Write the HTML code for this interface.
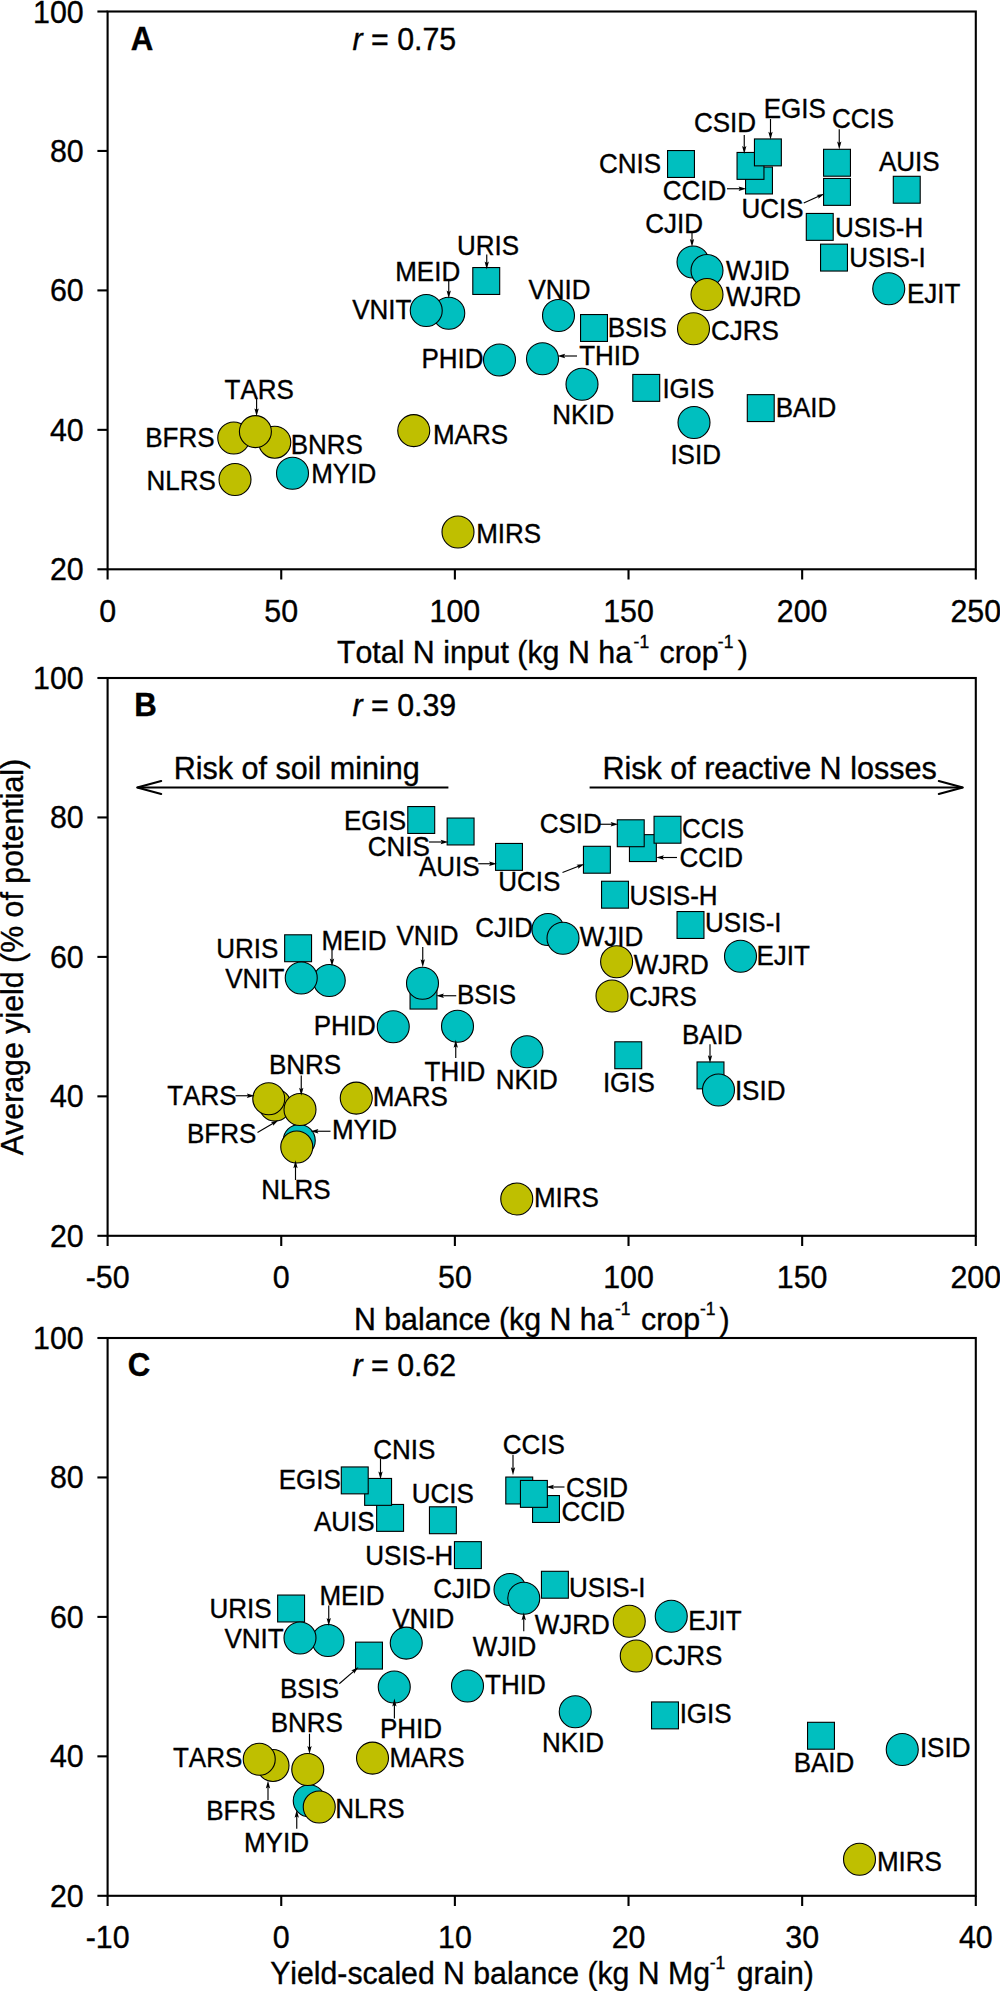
<!DOCTYPE html>
<html lang="en"><head><meta charset="utf-8"><title>Average yield vs N input, N balance and yield-scaled N balance</title>
<style>html,body{margin:0;padding:0;background:#fff}svg{display:block}text{font-kerning:none;stroke:#000;stroke-width:.35px;font-family:"Liberation Sans",Arial,Helvetica,sans-serif;fill:#000}.l{font-size:26px}.t{font-size:30.35px}.r{font-size:30.55px}.b{font-size:31.2px;font-weight:bold}.ax{stroke:#000;stroke-width:2.1;fill:none}.m{stroke:#000;stroke-width:1.1}.ar{stroke:#000;stroke-width:1.15;fill:none}.ah{fill:#000;stroke:none}</style></head><body>
<svg width="1000" height="1991" viewBox="0 0 1000 1991">
<rect width="1000" height="1991" fill="#fff"/>
<g id="panel-A">
<rect class="ax" x="107.6" y="11.5" width="868.2" height="557.8"/>
<line class="ax" x1="97.4" y1="11.5" x2="107.6" y2="11.5"/>
<text class="t" transform="translate(83.7 22.5) scale(1 1.04)" text-anchor="end">100</text>
<line class="ax" x1="97.4" y1="150.95" x2="107.6" y2="150.95"/>
<text class="t" transform="translate(83.7 161.95) scale(1 1.04)" text-anchor="end">80</text>
<line class="ax" x1="97.4" y1="290.4" x2="107.6" y2="290.4"/>
<text class="t" transform="translate(83.7 301.4) scale(1 1.04)" text-anchor="end">60</text>
<line class="ax" x1="97.4" y1="429.85" x2="107.6" y2="429.85"/>
<text class="t" transform="translate(83.7 440.85) scale(1 1.04)" text-anchor="end">40</text>
<line class="ax" x1="97.4" y1="569.3" x2="107.6" y2="569.3"/>
<text class="t" transform="translate(83.7 580.3) scale(1 1.04)" text-anchor="end">20</text>
<line class="ax" x1="107.6" y1="569.3" x2="107.6" y2="579.5"/>
<text class="t" transform="translate(107.6 621.6) scale(1 1.04)" text-anchor="middle">0</text>
<line class="ax" x1="281.24" y1="569.3" x2="281.24" y2="579.5"/>
<text class="t" transform="translate(281.24 621.6) scale(1 1.04)" text-anchor="middle">50</text>
<line class="ax" x1="454.88" y1="569.3" x2="454.88" y2="579.5"/>
<text class="t" transform="translate(454.88 621.6) scale(1 1.04)" text-anchor="middle">100</text>
<line class="ax" x1="628.52" y1="569.3" x2="628.52" y2="579.5"/>
<text class="t" transform="translate(628.52 621.6) scale(1 1.04)" text-anchor="middle">150</text>
<line class="ax" x1="802.16" y1="569.3" x2="802.16" y2="579.5"/>
<text class="t" transform="translate(802.16 621.6) scale(1 1.04)" text-anchor="middle">200</text>
<line class="ax" x1="975.8" y1="569.3" x2="975.8" y2="579.5"/>
<text class="t" transform="translate(975.8 621.6) scale(1 1.04)" text-anchor="middle">250</text>
<text class="b" transform="translate(130.7 49.8) scale(1 1.04)">A</text>
<text class="t" transform="translate(352.5 49.5) scale(1 1.04)"><tspan font-style="italic">r</tspan> = 0.75</text>
<rect class="m" x="893.3" y="176.3" width="26.9" height="26.9" fill="#00bfbf"/>
<rect class="m" x="747.3" y="394.65" width="26.9" height="26.9" fill="#00bfbf"/>
<rect class="m" x="580.55" y="314.55" width="26.9" height="26.9" fill="#00bfbf"/>
<rect class="m" x="745.55" y="167.05" width="26.9" height="26.9" fill="#00bfbf"/>
<rect class="m" x="823.55" y="149.3" width="26.9" height="26.9" fill="#00bfbf"/>
<rect class="m" x="667.55" y="150.55" width="26.9" height="26.9" fill="#00bfbf"/>
<rect class="m" x="737.05" y="152.45" width="26.9" height="26.9" fill="#00bfbf"/>
<rect class="m" x="754.45" y="138.95" width="26.9" height="26.9" fill="#00bfbf"/>
<rect class="m" x="632.8" y="374.45" width="26.9" height="26.9" fill="#00bfbf"/>
<rect class="m" x="823.55" y="178.45" width="26.9" height="26.9" fill="#00bfbf"/>
<rect class="m" x="472.8" y="267.55" width="26.9" height="26.9" fill="#00bfbf"/>
<rect class="m" x="806.3" y="213.45" width="26.9" height="26.9" fill="#00bfbf"/>
<rect class="m" x="820.55" y="244.15" width="26.9" height="26.9" fill="#00bfbf"/>
<circle class="m" cx="693" cy="262" r="16" fill="#00bfbf"/>
<circle class="m" cx="888.75" cy="288.75" r="16" fill="#00bfbf"/>
<circle class="m" cx="694" cy="422.5" r="16" fill="#00bfbf"/>
<circle class="m" cx="448.75" cy="313.25" r="16" fill="#00bfbf"/>
<circle class="m" cx="292.5" cy="473.25" r="16" fill="#00bfbf"/>
<circle class="m" cx="582" cy="384.25" r="16" fill="#00bfbf"/>
<circle class="m" cx="499.5" cy="360" r="16" fill="#00bfbf"/>
<circle class="m" cx="542.5" cy="358.75" r="16" fill="#00bfbf"/>
<circle class="m" cx="558.5" cy="315.5" r="16" fill="#00bfbf"/>
<circle class="m" cx="426.25" cy="310.5" r="16" fill="#00bfbf"/>
<circle class="m" cx="707" cy="270.5" r="16" fill="#00bfbf"/>
<circle class="m" cx="233.75" cy="438" r="16" fill="#bfbf00"/>
<circle class="m" cx="274.75" cy="442.2" r="16" fill="#bfbf00"/>
<circle class="m" cx="693.5" cy="328.75" r="16" fill="#bfbf00"/>
<circle class="m" cx="413.75" cy="430.6" r="16" fill="#bfbf00"/>
<circle class="m" cx="458" cy="532" r="16" fill="#bfbf00"/>
<circle class="m" cx="235" cy="479.5" r="16" fill="#bfbf00"/>
<circle class="m" cx="255.4" cy="431.6" r="16" fill="#bfbf00"/>
<circle class="m" cx="707" cy="294.5" r="16" fill="#bfbf00"/>
<line class="ar" x1="256.6" y1="398" x2="256.6" y2="410.4"/><polygon class="ah" points="256.6,416.2 254.45,408.4 256.6,409.7 258.75,408.4"/>
<line class="ar" x1="486.75" y1="254.5" x2="486.75" y2="263.6"/><polygon class="ah" points="486.75,269.4 484.6,261.6 486.75,262.9 488.9,261.6"/>
<line class="ar" x1="448.75" y1="280.5" x2="448.75" y2="292.6"/><polygon class="ah" points="448.75,298.4 446.6,290.6 448.75,291.9 450.9,290.6"/>
<line class="ar" x1="577" y1="356" x2="563.15" y2="356"/><polygon class="ah" points="557.35,356 565.15,353.85 563.85,356 565.15,358.15"/>
<line class="ar" x1="744.25" y1="135" x2="744.25" y2="148.1"/><polygon class="ah" points="744.25,153.9 742.1,146.1 744.25,147.4 746.4,146.1"/>
<line class="ar" x1="770.5" y1="119" x2="770.5" y2="133.85"/><polygon class="ah" points="770.5,139.65 768.35,131.85 770.5,133.15 772.65,131.85"/>
<line class="ar" x1="727" y1="188.75" x2="740.6" y2="188.75"/><polygon class="ah" points="746.4,188.75 738.6,190.9 739.9,188.75 738.6,186.6"/>
<line class="ar" x1="692" y1="232" x2="692" y2="241.1"/><polygon class="ah" points="692,246.9 689.85,239.1 692,240.4 694.15,239.1"/>
<line class="ar" x1="839.25" y1="129.25" x2="839.25" y2="143.6"/><polygon class="ah" points="839.25,149.4 837.1,141.6 839.25,142.9 841.4,141.6"/>
<line class="ar" x1="803.75" y1="203" x2="819.24" y2="196.05"/><polygon class="ah" points="824.53,193.68 818.29,198.83 818.6,196.34 816.53,194.91"/>
<text class="l" transform="translate(224.52 399.3) scale(1 1.04)">TARS</text>
<text class="l" transform="translate(290.67 453.8) scale(1 1.04)">BNRS</text>
<text class="l" transform="translate(311.17 483.3) scale(1 1.04)">MYID</text>
<text class="l" transform="translate(145.17 446.55) scale(1 1.04)">BFRS</text>
<text class="l" transform="translate(146.42 489.55) scale(1 1.04)">NLRS</text>
<text class="l" transform="translate(432.92 443.55) scale(1 1.04)">MARS</text>
<text class="l" transform="translate(457.04 254.55) scale(1 1.04)">URIS</text>
<text class="l" transform="translate(395.17 280.8) scale(1 1.04)">MEID</text>
<text class="l" transform="translate(352.19 318.8) scale(1 1.04)">VNIT</text>
<text class="l" transform="translate(528.44 299.05) scale(1 1.04)">VNID</text>
<text class="l" transform="translate(421.42 368.05) scale(1 1.04)">PHID</text>
<text class="l" transform="translate(552.17 424.05) scale(1 1.04)">NKID</text>
<text class="l" transform="translate(579.22 364.55) scale(1 1.04)">THID</text>
<text class="l" transform="translate(598.98 173.3) scale(1 1.04)">CNIS</text>
<text class="l" transform="translate(693.98 131.55) scale(1 1.04)">CSID</text>
<text class="l" transform="translate(763.67 117.55) scale(1 1.04)">EGIS</text>
<text class="l" transform="translate(662.73 200.05) scale(1 1.04)">CCID</text>
<text class="l" transform="translate(741.54 217.55) scale(1 1.04)">UCIS</text>
<text class="l" transform="translate(645.23 232.55) scale(1 1.04)">CJID</text>
<text class="l" transform="translate(725.94 279.55) scale(1 1.04)">WJID</text>
<text class="l" transform="translate(725.94 306.3) scale(1 1.04)">WJRD</text>
<text class="l" transform="translate(607.67 337.3) scale(1 1.04)">BSIS</text>
<text class="l" transform="translate(710.98 340.3) scale(1 1.04)">CJRS</text>
<text class="l" transform="translate(831.98 127.55) scale(1 1.04)">CCIS</text>
<text class="l" transform="translate(879 170.8) scale(1 1.04)">AUIS</text>
<text class="l" transform="translate(835.09 236.5) scale(1 1.04)">USIS-H</text>
<text class="l" transform="translate(849.29 267.2) scale(1 1.04)">USIS-I</text>
<text class="l" transform="translate(906.92 302.55) scale(1 1.04)">EJIT</text>
<text class="l" transform="translate(662.4 397.8) scale(1 1.04)">IGIS</text>
<text class="l" transform="translate(775.67 417.05) scale(1 1.04)">BAID</text>
<text class="l" transform="translate(670.4 464.05) scale(1 1.04)">ISID</text>
<text class="l" transform="translate(476.17 542.8) scale(1 1.04)">MIRS</text>
</g>
<g id="panel-B">
<rect class="ax" x="107.6" y="678" width="868.2" height="557.8"/>
<line class="ax" x1="97.4" y1="678" x2="107.6" y2="678"/>
<text class="t" transform="translate(83.7 689) scale(1 1.04)" text-anchor="end">100</text>
<line class="ax" x1="97.4" y1="817.45" x2="107.6" y2="817.45"/>
<text class="t" transform="translate(83.7 828.45) scale(1 1.04)" text-anchor="end">80</text>
<line class="ax" x1="97.4" y1="956.9" x2="107.6" y2="956.9"/>
<text class="t" transform="translate(83.7 967.9) scale(1 1.04)" text-anchor="end">60</text>
<line class="ax" x1="97.4" y1="1096.35" x2="107.6" y2="1096.35"/>
<text class="t" transform="translate(83.7 1107.35) scale(1 1.04)" text-anchor="end">40</text>
<line class="ax" x1="97.4" y1="1235.8" x2="107.6" y2="1235.8"/>
<text class="t" transform="translate(83.7 1246.8) scale(1 1.04)" text-anchor="end">20</text>
<line class="ax" x1="107.6" y1="1235.8" x2="107.6" y2="1246"/>
<text class="t" transform="translate(107.6 1288.1) scale(1 1.04)" text-anchor="middle">-50</text>
<line class="ax" x1="281.24" y1="1235.8" x2="281.24" y2="1246"/>
<text class="t" transform="translate(281.24 1288.1) scale(1 1.04)" text-anchor="middle">0</text>
<line class="ax" x1="454.88" y1="1235.8" x2="454.88" y2="1246"/>
<text class="t" transform="translate(454.88 1288.1) scale(1 1.04)" text-anchor="middle">50</text>
<line class="ax" x1="628.52" y1="1235.8" x2="628.52" y2="1246"/>
<text class="t" transform="translate(628.52 1288.1) scale(1 1.04)" text-anchor="middle">100</text>
<line class="ax" x1="802.16" y1="1235.8" x2="802.16" y2="1246"/>
<text class="t" transform="translate(802.16 1288.1) scale(1 1.04)" text-anchor="middle">150</text>
<line class="ax" x1="975.8" y1="1235.8" x2="975.8" y2="1246"/>
<text class="t" transform="translate(975.8 1288.1) scale(1 1.04)" text-anchor="middle">200</text>
<text class="b" transform="translate(134.2 716.3) scale(1 1.04)">B</text>
<text class="t" transform="translate(352.5 716) scale(1 1.04)"><tspan font-style="italic">r</tspan> = 0.39</text>
<rect class="m" x="495.55" y="843.45" width="26.9" height="26.9" fill="#00bfbf"/>
<rect class="m" x="697.05" y="1061.95" width="26.9" height="26.9" fill="#00bfbf"/>
<rect class="m" x="410.05" y="982.15" width="26.9" height="26.9" fill="#00bfbf"/>
<rect class="m" x="629.45" y="834.65" width="26.9" height="26.9" fill="#00bfbf"/>
<rect class="m" x="654.05" y="816.3" width="26.9" height="26.9" fill="#00bfbf"/>
<rect class="m" x="447.15" y="818.05" width="26.9" height="26.9" fill="#00bfbf"/>
<rect class="m" x="617.3" y="819.8" width="26.9" height="26.9" fill="#00bfbf"/>
<rect class="m" x="407.8" y="806.55" width="26.9" height="26.9" fill="#00bfbf"/>
<rect class="m" x="614.8" y="1041.8" width="26.9" height="26.9" fill="#00bfbf"/>
<rect class="m" x="583.45" y="846.3" width="26.9" height="26.9" fill="#00bfbf"/>
<rect class="m" x="284.65" y="934.8" width="26.9" height="26.9" fill="#00bfbf"/>
<rect class="m" x="601.55" y="881.25" width="26.9" height="26.9" fill="#00bfbf"/>
<rect class="m" x="677.05" y="911.55" width="26.9" height="26.9" fill="#00bfbf"/>
<circle class="m" cx="548" cy="929.5" r="16" fill="#00bfbf"/>
<circle class="m" cx="740.5" cy="956.25" r="16" fill="#00bfbf"/>
<circle class="m" cx="718.5" cy="1090" r="16" fill="#00bfbf"/>
<circle class="m" cx="329.25" cy="980.5" r="16" fill="#00bfbf"/>
<circle class="m" cx="299.25" cy="1140.5" r="16" fill="#00bfbf"/>
<circle class="m" cx="527" cy="1051.75" r="16" fill="#00bfbf"/>
<circle class="m" cx="393.25" cy="1026.75" r="16" fill="#00bfbf"/>
<circle class="m" cx="457.5" cy="1026.25" r="16" fill="#00bfbf"/>
<circle class="m" cx="422.5" cy="983.25" r="16" fill="#00bfbf"/>
<circle class="m" cx="301.25" cy="978" r="16" fill="#00bfbf"/>
<circle class="m" cx="563" cy="938.25" r="16" fill="#00bfbf"/>
<circle class="m" cx="275" cy="1105" r="16" fill="#bfbf00"/>
<circle class="m" cx="300" cy="1109.5" r="16" fill="#bfbf00"/>
<circle class="m" cx="612" cy="996" r="16" fill="#bfbf00"/>
<circle class="m" cx="356.25" cy="1098.1" r="16" fill="#bfbf00"/>
<circle class="m" cx="516.75" cy="1199" r="16" fill="#bfbf00"/>
<circle class="m" cx="296.75" cy="1147" r="16" fill="#bfbf00"/>
<circle class="m" cx="268.75" cy="1098.75" r="16" fill="#bfbf00"/>
<circle class="m" cx="616.6" cy="961.75" r="16" fill="#bfbf00"/>
<line class="ar" x1="429" y1="842" x2="442.6" y2="842"/><polygon class="ah" points="448.4,842 440.6,844.15 441.9,842 440.6,839.85"/>
<line class="ar" x1="332" y1="950" x2="332" y2="960.6"/><polygon class="ah" points="332,966.4 329.85,958.6 332,959.9 334.15,958.6"/>
<line class="ar" x1="422.75" y1="947" x2="422.75" y2="961.35"/><polygon class="ah" points="422.75,967.15 420.6,959.35 422.75,960.65 424.9,959.35"/>
<line class="ar" x1="456.25" y1="995.75" x2="441.9" y2="995.75"/><polygon class="ah" points="436.1,995.75 443.9,993.6 442.6,995.75 443.9,997.9"/>
<line class="ar" x1="478.25" y1="863.75" x2="491.1" y2="863.75"/><polygon class="ah" points="496.9,863.75 489.1,865.9 490.4,863.75 489.1,861.6"/>
<line class="ar" x1="562.5" y1="872.5" x2="579.14" y2="866.08"/><polygon class="ah" points="584.56,864 578.05,868.81 578.49,866.33 576.51,864.8"/>
<line class="ar" x1="600" y1="824.25" x2="612.6" y2="824.25"/><polygon class="ah" points="618.4,824.25 610.6,826.4 611.9,824.25 610.6,822.1"/>
<line class="ar" x1="677" y1="857.5" x2="661.9" y2="857.5"/><polygon class="ah" points="656.1,857.5 663.9,855.35 662.6,857.5 663.9,859.65"/>
<line class="ar" x1="455.75" y1="1058" x2="455.75" y2="1045.65"/><polygon class="ah" points="455.75,1039.85 457.9,1047.65 455.75,1046.35 453.6,1047.65"/>
<line class="ar" x1="710" y1="1044.25" x2="710" y2="1057.35"/><polygon class="ah" points="710,1063.15 707.85,1055.35 710,1056.65 712.15,1055.35"/>
<line class="ar" x1="301.25" y1="1075.5" x2="301.25" y2="1089.85"/><polygon class="ah" points="301.25,1095.65 299.1,1087.85 301.25,1089.15 303.4,1087.85"/>
<line class="ar" x1="235.5" y1="1095.75" x2="248.85" y2="1095.75"/><polygon class="ah" points="254.65,1095.75 246.85,1097.9 248.15,1095.75 246.85,1093.6"/>
<line class="ar" x1="257.5" y1="1132.5" x2="273.71" y2="1122.98"/><polygon class="ah" points="278.71,1120.04 273.07,1125.85 273.1,1123.33 270.89,1122.14"/>
<line class="ar" x1="330.5" y1="1131.25" x2="316.4" y2="1131.25"/><polygon class="ah" points="310.6,1131.25 318.4,1129.1 317.1,1131.25 318.4,1133.4"/>
<line class="ar" x1="295.5" y1="1180" x2="295.5" y2="1166.15"/><polygon class="ah" points="295.5,1160.35 297.65,1168.15 295.5,1166.85 293.35,1168.15"/>
<text class="l" transform="translate(343.92 829.55) scale(1 1.04)">EGIS</text>
<text class="l" transform="translate(367.73 855.8) scale(1 1.04)">CNIS</text>
<text class="l" transform="translate(419 875.8) scale(1 1.04)">AUIS</text>
<text class="l" transform="translate(216.29 957.55) scale(1 1.04)">URIS</text>
<text class="l" transform="translate(225.19 988.3) scale(1 1.04)">VNIT</text>
<text class="l" transform="translate(321.42 950.05) scale(1 1.04)">MEID</text>
<text class="l" transform="translate(396.44 945.05) scale(1 1.04)">VNID</text>
<text class="l" transform="translate(313.67 1034.55) scale(1 1.04)">PHID</text>
<text class="l" transform="translate(498.29 890.8) scale(1 1.04)">UCIS</text>
<text class="l" transform="translate(539.73 833.3) scale(1 1.04)">CSID</text>
<text class="l" transform="translate(475.23 937.05) scale(1 1.04)">CJID</text>
<text class="l" transform="translate(579.69 945.8) scale(1 1.04)">WJID</text>
<text class="l" transform="translate(456.92 1003.8) scale(1 1.04)">BSIS</text>
<text class="l" transform="translate(681.98 838.3) scale(1 1.04)">CCIS</text>
<text class="l" transform="translate(679.48 867.05) scale(1 1.04)">CCID</text>
<text class="l" transform="translate(629.54 904.55) scale(1 1.04)">USIS-H</text>
<text class="l" transform="translate(705.04 932.05) scale(1 1.04)">USIS-I</text>
<text class="l" transform="translate(756.42 964.55) scale(1 1.04)">EJIT</text>
<text class="l" transform="translate(633.69 973.8) scale(1 1.04)">WJRD</text>
<text class="l" transform="translate(628.98 1005.8) scale(1 1.04)">CJRS</text>
<text class="l" transform="translate(495.67 1089.05) scale(1 1.04)">NKID</text>
<text class="l" transform="translate(602.9 1092.05) scale(1 1.04)">IGIS</text>
<text class="l" transform="translate(533.92 1207.05) scale(1 1.04)">MIRS</text>
<text class="l" transform="translate(424.62 1080.8) scale(1 1.04)">THID</text>
<text class="l" transform="translate(681.92 1043.8) scale(1 1.04)">BAID</text>
<text class="l" transform="translate(734.9 1099.55) scale(1 1.04)">ISID</text>
<text class="l" transform="translate(268.92 1073.8) scale(1 1.04)">BNRS</text>
<text class="l" transform="translate(167.22 1105.3) scale(1 1.04)">TARS</text>
<text class="l" transform="translate(186.92 1143.3) scale(1 1.04)">BFRS</text>
<text class="l" transform="translate(331.92 1139.05) scale(1 1.04)">MYID</text>
<text class="l" transform="translate(261.17 1199.05) scale(1 1.04)">NLRS</text>
<text class="l" transform="translate(372.67 1105.8) scale(1 1.04)">MARS</text>
</g>
<g id="panel-C">
<rect class="ax" x="107.6" y="1338" width="868.2" height="557.8"/>
<line class="ax" x1="97.4" y1="1338" x2="107.6" y2="1338"/>
<text class="t" transform="translate(83.7 1349) scale(1 1.04)" text-anchor="end">100</text>
<line class="ax" x1="97.4" y1="1477.45" x2="107.6" y2="1477.45"/>
<text class="t" transform="translate(83.7 1488.45) scale(1 1.04)" text-anchor="end">80</text>
<line class="ax" x1="97.4" y1="1616.9" x2="107.6" y2="1616.9"/>
<text class="t" transform="translate(83.7 1627.9) scale(1 1.04)" text-anchor="end">60</text>
<line class="ax" x1="97.4" y1="1756.35" x2="107.6" y2="1756.35"/>
<text class="t" transform="translate(83.7 1767.35) scale(1 1.04)" text-anchor="end">40</text>
<line class="ax" x1="97.4" y1="1895.8" x2="107.6" y2="1895.8"/>
<text class="t" transform="translate(83.7 1906.8) scale(1 1.04)" text-anchor="end">20</text>
<line class="ax" x1="107.6" y1="1895.8" x2="107.6" y2="1906"/>
<text class="t" transform="translate(107.6 1948.1) scale(1 1.04)" text-anchor="middle">-10</text>
<line class="ax" x1="281.24" y1="1895.8" x2="281.24" y2="1906"/>
<text class="t" transform="translate(281.24 1948.1) scale(1 1.04)" text-anchor="middle">0</text>
<line class="ax" x1="454.88" y1="1895.8" x2="454.88" y2="1906"/>
<text class="t" transform="translate(454.88 1948.1) scale(1 1.04)" text-anchor="middle">10</text>
<line class="ax" x1="628.52" y1="1895.8" x2="628.52" y2="1906"/>
<text class="t" transform="translate(628.52 1948.1) scale(1 1.04)" text-anchor="middle">20</text>
<line class="ax" x1="802.16" y1="1895.8" x2="802.16" y2="1906"/>
<text class="t" transform="translate(802.16 1948.1) scale(1 1.04)" text-anchor="middle">30</text>
<line class="ax" x1="975.8" y1="1895.8" x2="975.8" y2="1906"/>
<text class="t" transform="translate(975.8 1948.1) scale(1 1.04)" text-anchor="middle">40</text>
<text class="b" transform="translate(127.8 1376.3) scale(1 1.04)">C</text>
<text class="t" transform="translate(352.5 1376) scale(1 1.04)"><tspan font-style="italic">r</tspan> = 0.62</text>
<rect class="m" x="376.65" y="1504.45" width="26.9" height="26.9" fill="#00bfbf"/>
<rect class="m" x="807.55" y="1722.3" width="26.9" height="26.9" fill="#00bfbf"/>
<rect class="m" x="355.55" y="1642.15" width="26.9" height="26.9" fill="#00bfbf"/>
<rect class="m" x="532.55" y="1495.55" width="26.9" height="26.9" fill="#00bfbf"/>
<rect class="m" x="505.8" y="1477.05" width="26.9" height="26.9" fill="#00bfbf"/>
<rect class="m" x="364.65" y="1478.45" width="26.9" height="26.9" fill="#00bfbf"/>
<rect class="m" x="520.45" y="1480.45" width="26.9" height="26.9" fill="#00bfbf"/>
<rect class="m" x="341.3" y="1466.95" width="26.9" height="26.9" fill="#00bfbf"/>
<rect class="m" x="651.55" y="1701.95" width="26.9" height="26.9" fill="#00bfbf"/>
<rect class="m" x="429.45" y="1506.8" width="26.9" height="26.9" fill="#00bfbf"/>
<rect class="m" x="277.65" y="1595.05" width="26.9" height="26.9" fill="#00bfbf"/>
<rect class="m" x="454.45" y="1541.65" width="26.9" height="26.9" fill="#00bfbf"/>
<rect class="m" x="541.45" y="1571.3" width="26.9" height="26.9" fill="#00bfbf"/>
<circle class="m" cx="510" cy="1589.5" r="16" fill="#00bfbf"/>
<circle class="m" cx="671.25" cy="1616.25" r="16" fill="#00bfbf"/>
<circle class="m" cx="902.25" cy="1749.5" r="16" fill="#00bfbf"/>
<circle class="m" cx="328" cy="1640.5" r="16" fill="#00bfbf"/>
<circle class="m" cx="309.25" cy="1800.75" r="16" fill="#00bfbf"/>
<circle class="m" cx="575.25" cy="1711.75" r="16" fill="#00bfbf"/>
<circle class="m" cx="394.25" cy="1687" r="16" fill="#00bfbf"/>
<circle class="m" cx="467.5" cy="1686" r="16" fill="#00bfbf"/>
<circle class="m" cx="406.25" cy="1643.1" r="16" fill="#00bfbf"/>
<circle class="m" cx="300" cy="1638" r="16" fill="#00bfbf"/>
<circle class="m" cx="523.75" cy="1598.25" r="16" fill="#00bfbf"/>
<circle class="m" cx="273" cy="1765.5" r="16" fill="#bfbf00"/>
<circle class="m" cx="307.75" cy="1769.5" r="16" fill="#bfbf00"/>
<circle class="m" cx="636.25" cy="1656" r="16" fill="#bfbf00"/>
<circle class="m" cx="372.5" cy="1758.1" r="16" fill="#bfbf00"/>
<circle class="m" cx="859.5" cy="1859.25" r="16" fill="#bfbf00"/>
<circle class="m" cx="319.25" cy="1807" r="16" fill="#bfbf00"/>
<circle class="m" cx="259.25" cy="1759.25" r="16" fill="#bfbf00"/>
<circle class="m" cx="629.25" cy="1621.25" r="16" fill="#bfbf00"/>
<line class="ar" x1="380.5" y1="1458.75" x2="380.5" y2="1473.6"/><polygon class="ah" points="380.5,1479.4 378.35,1471.6 380.5,1472.9 382.65,1471.6"/>
<line class="ar" x1="328.75" y1="1605.5" x2="328.75" y2="1620.1"/><polygon class="ah" points="328.75,1625.9 326.6,1618.1 328.75,1619.4 330.9,1618.1"/>
<line class="ar" x1="513" y1="1455" x2="513" y2="1469.35"/><polygon class="ah" points="513,1475.15 510.85,1467.35 513,1468.65 515.15,1467.35"/>
<line class="ar" x1="564.5" y1="1487" x2="551.9" y2="1487"/><polygon class="ah" points="546.1,1487 553.9,1484.85 552.6,1487 553.9,1489.15"/>
<line class="ar" x1="523.75" y1="1631.25" x2="523.75" y2="1618.15"/><polygon class="ah" points="523.75,1612.35 525.9,1620.15 523.75,1618.85 521.6,1620.15"/>
<line class="ar" x1="339.25" y1="1683.75" x2="354.17" y2="1670.87"/><polygon class="ah" points="358.56,1667.09 354.06,1673.81 353.64,1671.33 351.25,1670.55"/>
<line class="ar" x1="309.5" y1="1733.75" x2="309.5" y2="1748.1"/><polygon class="ah" points="309.5,1753.9 307.35,1746.1 309.5,1747.4 311.65,1746.1"/>
<line class="ar" x1="268" y1="1800" x2="268" y2="1786.4"/><polygon class="ah" points="268,1780.6 270.15,1788.4 268,1787.1 265.85,1788.4"/>
<line class="ar" x1="296.75" y1="1828.75" x2="296.75" y2="1815.65"/><polygon class="ah" points="296.75,1809.85 298.9,1817.65 296.75,1816.35 294.6,1817.65"/>
<line class="ar" x1="394.4" y1="1718.5" x2="394.4" y2="1704.4"/><polygon class="ah" points="394.4,1698.6 396.55,1706.4 394.4,1705.1 392.25,1706.4"/>
<text class="l" transform="translate(373.23 1458.8) scale(1 1.04)">CNIS</text>
<text class="l" transform="translate(278.67 1488.8) scale(1 1.04)">EGIS</text>
<text class="l" transform="translate(314 1530.8) scale(1 1.04)">AUIS</text>
<text class="l" transform="translate(365.29 1565.05) scale(1 1.04)">USIS-H</text>
<text class="l" transform="translate(411.79 1503.3) scale(1 1.04)">UCIS</text>
<text class="l" transform="translate(209.54 1618.3) scale(1 1.04)">URIS</text>
<text class="l" transform="translate(224.44 1647.55) scale(1 1.04)">VNIT</text>
<text class="l" transform="translate(319.42 1605.05) scale(1 1.04)">MEID</text>
<text class="l" transform="translate(392.19 1627.55) scale(1 1.04)">VNID</text>
<text class="l" transform="translate(502.73 1453.8) scale(1 1.04)">CCIS</text>
<text class="l" transform="translate(565.98 1496.55) scale(1 1.04)">CSID</text>
<text class="l" transform="translate(561.48 1521.3) scale(1 1.04)">CCID</text>
<text class="l" transform="translate(433.23 1598.3) scale(1 1.04)">CJID</text>
<text class="l" transform="translate(569.04 1596.55) scale(1 1.04)">USIS-I</text>
<text class="l" transform="translate(534.69 1634.05) scale(1 1.04)">WJRD</text>
<text class="l" transform="translate(472.69 1656.05) scale(1 1.04)">WJID</text>
<text class="l" transform="translate(688.17 1629.55) scale(1 1.04)">EJIT</text>
<text class="l" transform="translate(654.48 1665.3) scale(1 1.04)">CJRS</text>
<text class="l" transform="translate(679.65 1722.55) scale(1 1.04)">IGIS</text>
<text class="l" transform="translate(541.92 1752.05) scale(1 1.04)">NKID</text>
<text class="l" transform="translate(793.67 1772.05) scale(1 1.04)">BAID</text>
<text class="l" transform="translate(919.9 1757.05) scale(1 1.04)">ISID</text>
<text class="l" transform="translate(876.92 1870.8) scale(1 1.04)">MIRS</text>
<text class="l" transform="translate(279.92 1697.8) scale(1 1.04)">BSIS</text>
<text class="l" transform="translate(270.67 1732.05) scale(1 1.04)">BNRS</text>
<text class="l" transform="translate(172.97 1766.55) scale(1 1.04)">TARS</text>
<text class="l" transform="translate(206.17 1819.55) scale(1 1.04)">BFRS</text>
<text class="l" transform="translate(335.17 1817.8) scale(1 1.04)">NLRS</text>
<text class="l" transform="translate(243.92 1851.55) scale(1 1.04)">MYID</text>
<text class="l" transform="translate(485.12 1694.05) scale(1 1.04)">THID</text>
<text class="l" transform="translate(379.92 1738.3) scale(1 1.04)">PHID</text>
<text class="l" transform="translate(389.42 1766.55) scale(1 1.04)">MARS</text>
</g>
<g id="risk" stroke-linecap="round" stroke-linejoin="round">
<line class="ax" x1="137.5" y1="787.5" x2="448.4" y2="787.5" stroke-linecap="butt"/>
<polyline class="ax" points="161.2,781 137.2,787.5 161.2,794"/>
<text class="r" transform="translate(173.69 778.8) scale(1 1.02)">Risk of soil mining</text>
<line class="ax" x1="589.6" y1="787.5" x2="962.5" y2="787.5" stroke-linecap="butt"/>
<polyline class="ax" points="938.8,781 962.8,787.5 938.8,794"/>
<text class="r" transform="translate(602.39 778.8) scale(1 1.02)">Risk of reactive N losses</text>
</g>
<text class="t" transform="translate(632 663.3) scale(1 1.02)"><tspan text-anchor="end" x="0" y="0">Total N input (kg N ha</tspan><tspan x="1.62" y="-14.71" font-size="17.5">-1</tspan><tspan x="27.51" y="0">crop</tspan><tspan x="85.82" y="-14.71" font-size="17.5">-1</tspan><tspan x="105.82" y="0">)</tspan></text>
<text class="t" transform="translate(613.6 1329.6) scale(1 1.02)"><tspan text-anchor="end" x="0" y="0">N balance (kg N ha</tspan><tspan x="1.42" y="-14.71" font-size="17.5">-1</tspan><tspan x="27.51" y="0">crop</tspan><tspan x="86.42" y="-14.71" font-size="17.5">-1</tspan><tspan x="105.82" y="0">)</tspan></text>
<text font-size="30.2" transform="translate(709.95 1983.8) scale(1 1.02)"><tspan text-anchor="end" x="0" y="0">Yield-scaled N balance (kg N Mg</tspan><tspan x="-0.32" y="-14.71" font-size="17.5">-1</tspan><tspan x="26.79" y="0">grain)</tspan></text>
<text class="t" transform="translate(22.5 957) rotate(-90) scale(1 1.02)" text-anchor="middle">Average yield (% of potential)</text>
</svg></body></html>
